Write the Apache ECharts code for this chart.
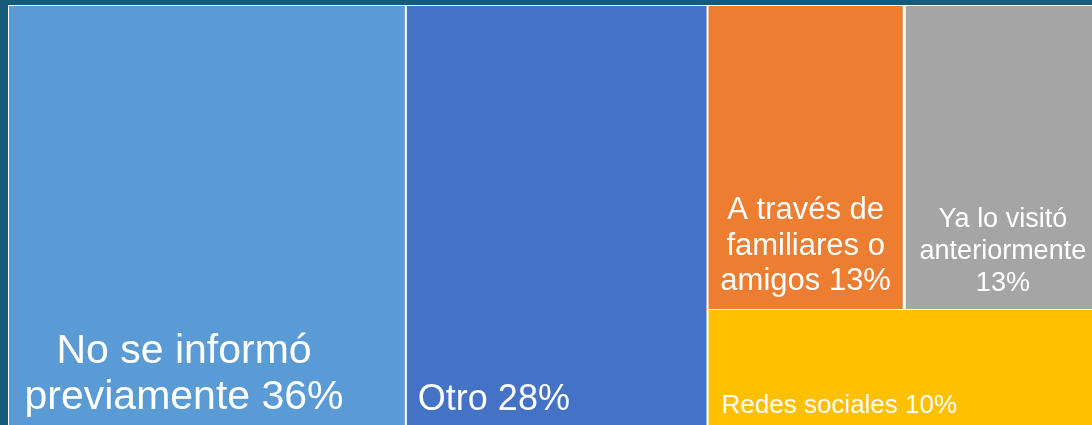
<!DOCTYPE html>
<html>
<head>
<meta charset="utf-8">
<script src="https://cdn.jsdelivr.net/npm/echarts@6/dist/echarts.min.js"></script>
<style>
html, body { margin: 0; padding: 0; background: #165a7a; }
#chart { width: 1092px; height: 425px; }
</style>
</head>
<body>
<div id="chart"></div>
<script>
// categories and shares (percent)
const categories = ['No se informó\npreviamente', 'Otro', 'A través de\nfamiliares o\namigos', 'Ya lo visitó\nanteriormente', 'Redes sociales']
const values = [36.4, 27.6, 13, 13, 10]
const colors = ['#5b9bd5', '#4472c4', '#ed7d31', '#a5a5a5', '#ffc000']
const separators = [' ', ' ', ' ', '\n', ' ']

// label placement per box (bottom-ish, like the office treemap)
const labelStyles = [
  { fontSize: 41, lineHeight: 46, align: 'center', position: [175, 0], padding: [323, 0, 0, 0] },
  { fontSize: 36, lineHeight: 40, align: 'left', position: [11, 0], padding: [374, 0, 0, 0] },
  { fontSize: 31, lineHeight: 35.5, align: 'center', position: ['50%', 0], padding: [187, 0, 0, 0] },
  { fontSize: 27, lineHeight: 32, align: 'center', position: ['50%', 0], padding: [198, 0, 0, 0] },
  { fontSize: 26, lineHeight: 30, align: 'left', position: [13, 0], padding: [81, 0, 0, 0] }
]

const leaf = i => ({
  name: categories[i],
  value: values[i],
  itemStyle: { color: colors[i] },
  label: Object.assign({ verticalAlign: 'top' }, labelStyles[i])
})

const treeData = [
  leaf(0),
  leaf(1),
  {
    name: 'resto',
    children: [
      { name: 'resto2', children: [leaf(2), leaf(3)] },
      leaf(4)
    ]
  }
]

const chart = echarts.init(document.getElementById('chart'))
chart.setOption({
  animation: false,
  series: [
    {
      type: 'treemap',
      left: 8,
      top: 5,
      width: 1093,
      height: 422,
      roam: false,
      nodeClick: false,
      silent: true,
      sort: false,
      squareRatio: 1,
      breadcrumb: { show: false },
      label: {
        show: true,
        color: '#fff',
        fontFamily: 'Liberation Sans, Arial, sans-serif',
        formatter: p => {
          const i = categories.indexOf(p.name)
          return p.name + separators[i] + Math.round(p.value) + '%'
        }
      },
      levels: [
        { itemStyle: { borderColor: '#fff', borderWidth: 1, gapWidth: 2 } },
        { itemStyle: { borderColor: '#fff', borderWidth: 0, gapWidth: 1 } },
        { itemStyle: { borderColor: '#fff', borderWidth: 0, gapWidth: 3 } },
        { itemStyle: { borderColor: '#fff', borderWidth: 0 } }
      ],
      data: treeData
    }
  ]
})
</script>
</body>
</html>
